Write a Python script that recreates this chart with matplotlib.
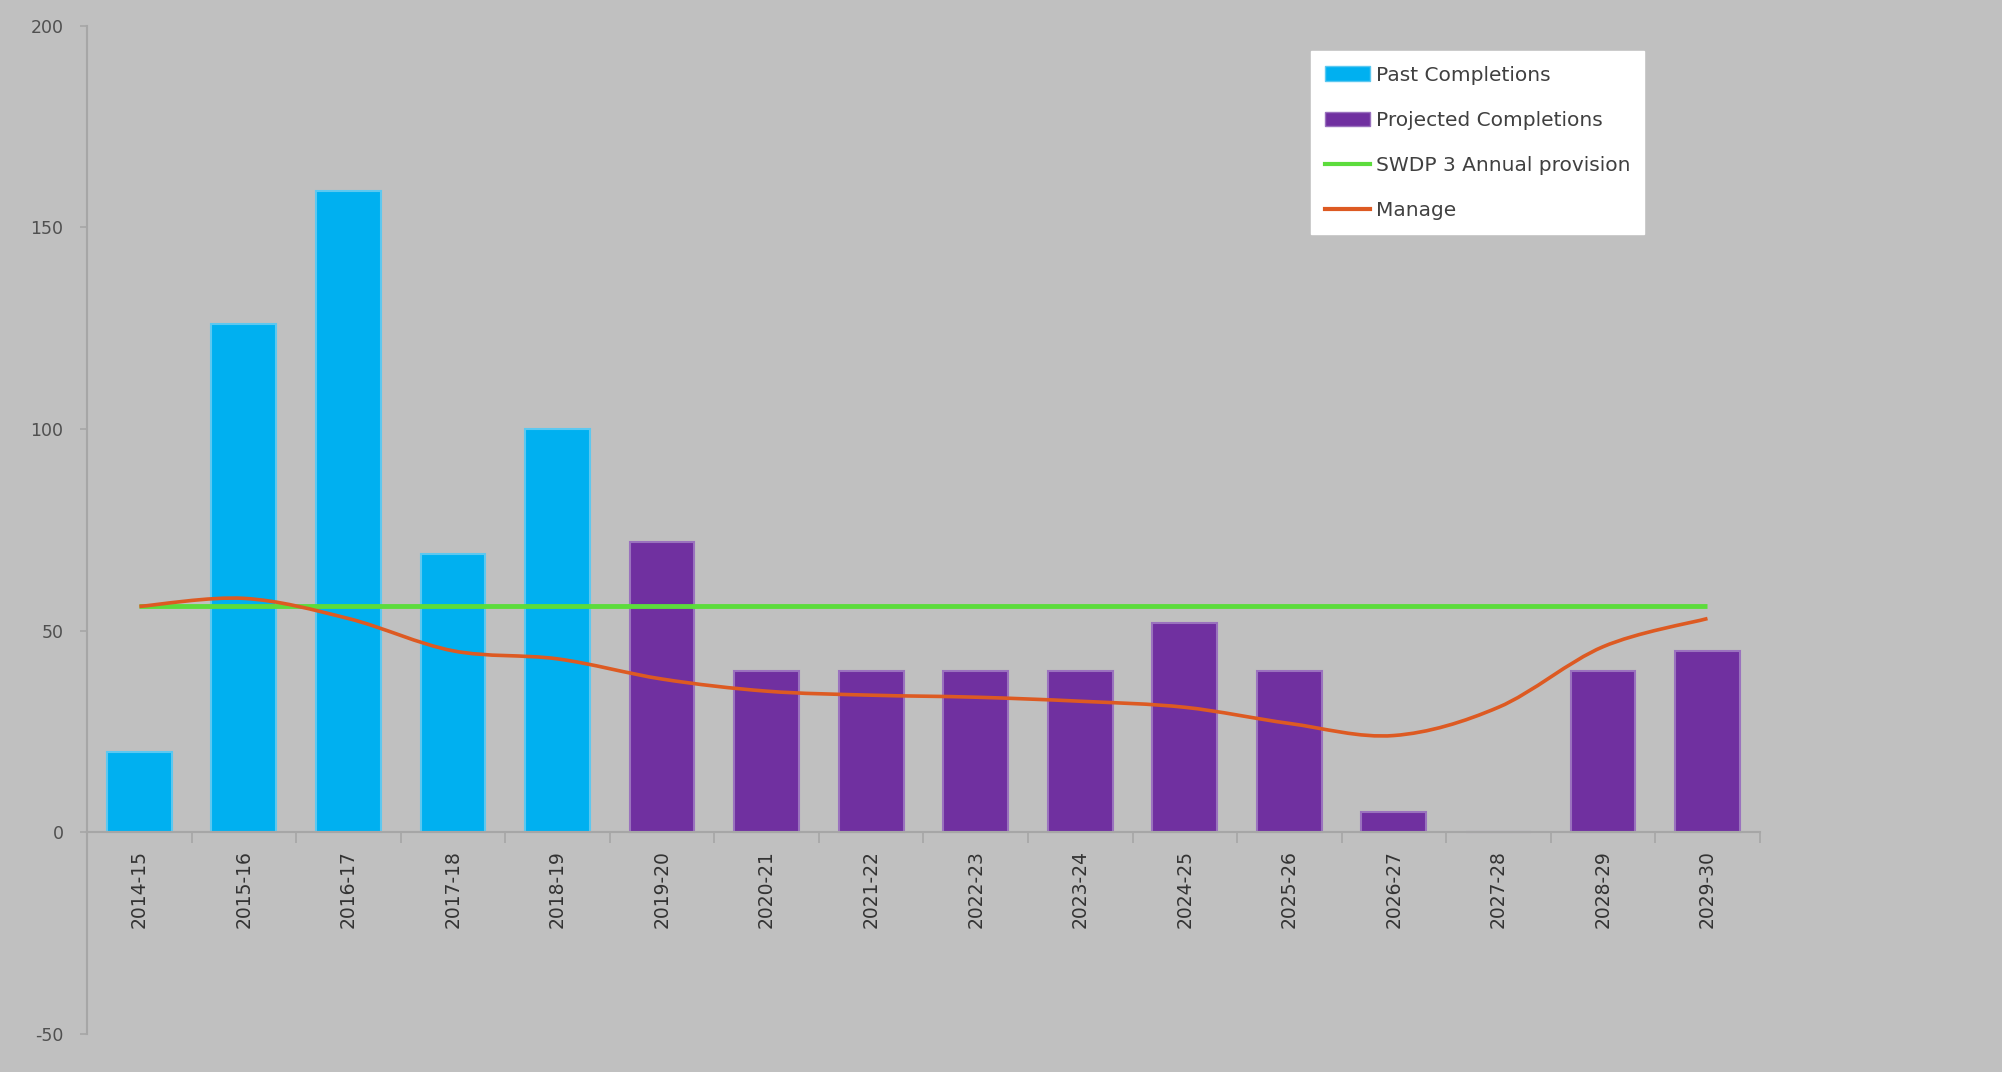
import matplotlib
matplotlib.use("Agg")
import matplotlib.pyplot as plt
import numpy as np
from matplotlib.path import Path
from matplotlib.patches import PathPatch, Patch
from matplotlib.lines import Line2D

categories = ["2014-15", "2015-16", "2016-17", "2017-18", "2018-19", "2019-20",
              "2020-21", "2021-22", "2022-23", "2023-24", "2024-25", "2025-26",
              "2026-27", "2027-28", "2028-29", "2029-30"]
past = [20, 126, 159, 69, 100, None, None, None, None, None, None, None, None, None, None, None]
projected = [None, None, None, None, None, 72, 40, 40, 40, 40, 52, 40, 5, 0, 40, 45]
provision = [56] * 16
manage = [56, 58, 53, 45, 43, 38, 35, 34, 33.5, 32.5, 31, 27, 24, 31, 46, 53]
yticks = [-50, 0, 50, 100, 150, 200]

BG = "#c0c0c0"
BLUE = "#00b0f0"
PURPLE = "#7030a0"
GREEN = "#5cdc3c"
ORANGE = "#dd5a22"
AXC = "#a6a6a6"
TXT = "#505050"

fig = plt.figure(figsize=(20.02, 10.72), dpi=100, facecolor=BG)
ax = fig.add_axes([0.0435, 0.0354, 0.8355, 0.9408], facecolor=BG)

x = np.arange(len(categories))
w = 0.62
px = [i for i, v in enumerate(past) if v is not None]
pv = [past[i] for i in px]
qx = [i for i, v in enumerate(projected) if v is not None]
qv = [projected[i] for i in qx]
ax.bar(px, pv, width=w, color=BLUE, edgecolor="#5cc8f0", linewidth=1.5, zorder=2)
ax.bar(qx, qv, width=w, color=PURPLE, edgecolor="#9a72be", linewidth=1.5, zorder=2)

ax.plot(x, provision, color=GREEN, lw=3.5, zorder=3, solid_capstyle="butt")

# smoothed (Catmull-Rom style) line through the Manage values
pts = np.column_stack([x, manage]).astype(float)
verts = [tuple(pts[0])]
codes = [Path.MOVETO]
t = 1 / 6
for i in range(len(pts) - 1):
    p0 = pts[i - 1] if i > 0 else pts[i]
    p1 = pts[i]
    p2 = pts[i + 1]
    p3 = pts[i + 2] if i + 2 < len(pts) else pts[i + 1]
    c1 = p1 + (p2 - p0) * t
    c2 = p2 - (p3 - p1) * t
    verts += [tuple(c1), tuple(c2), tuple(p2)]
    codes += [Path.CURVE4] * 3
ax.add_patch(PathPatch(Path(verts, codes), fill=False, edgecolor=ORANGE, lw=2.6, zorder=4))

ax.set_xlim(-0.5, len(categories) - 0.5)
ax.set_ylim(-50, 200)
ax.set_yticks(yticks)
ax.set_yticklabels([str(v) for v in yticks])

for s in ["top", "right"]:
    ax.spines[s].set_visible(False)
ax.spines["left"].set_color(AXC)
ax.spines["left"].set_linewidth(1.5)
ax.spines["bottom"].set_position(("data", 0))
ax.spines["bottom"].set_color(AXC)
ax.spines["bottom"].set_linewidth(1.5)

ax.set_xticks(np.arange(-0.5, len(categories), 1.0), minor=False)
ax.set_xticklabels([])
ax.tick_params(axis="x", which="major", direction="out", length=8, color=AXC, width=1.2)
ax.set_xticks(x, minor=True)
ax.set_xticklabels(categories, minor=True, rotation=90, fontsize=13.5, color="#333333")
ax.tick_params(axis="x", which="minor", length=0, pad=13)
ax.tick_params(axis="y", direction="out", length=5, color=AXC, width=1.2,
               labelsize=12.5, labelcolor=TXT, pad=12)

handles = [Patch(facecolor=BLUE, edgecolor="#5cc8f0"),
           Patch(facecolor=PURPLE, edgecolor="#9a72be"),
           Line2D([], [], color=GREEN, lw=3),
           Line2D([], [], color=ORANGE, lw=3)]
labels = ["Past Completions", "Projected Completions", "SWDP 3 Annual provision", "Manage"]
leg = fig.legend(handles, labels, loc="upper left", bbox_to_anchor=(0.655, 0.952),
                 frameon=True, fancybox=False, facecolor="white", edgecolor="white",
                 framealpha=1, fontsize=14.5, labelspacing=1.3, handlelength=2.2,
                 handleheight=0.7, handletextpad=0.3, borderpad=0.7, borderaxespad=0)
for t_ in leg.get_texts():
    t_.set_color("#404040")

fig.savefig("out.png", dpi=100, facecolor=BG)
